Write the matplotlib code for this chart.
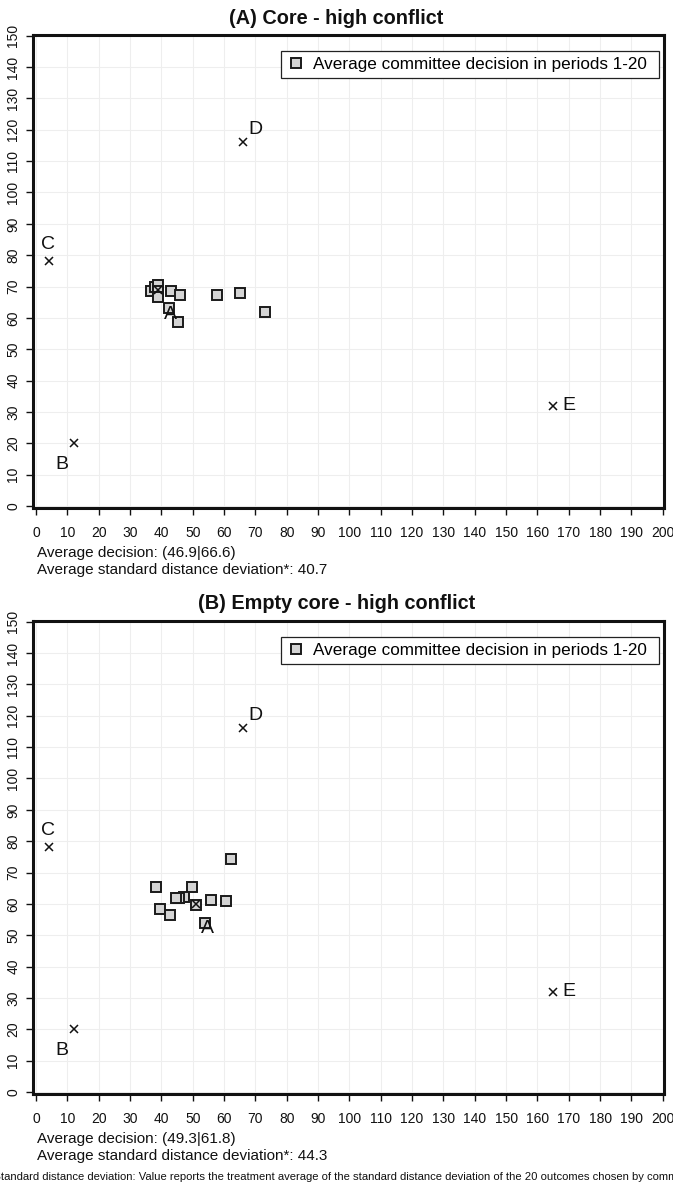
import matplotlib
matplotlib.use("Agg")
import matplotlib.pyplot as plt
import numpy as np

plt.rcParams['font.family'] = ['Liberation Sans', 'DejaVu Sans']

# committee averages, treatment (A) core
core_x = [36.6, 38.0, 39.0, 39.0, 38.9, 43.2, 46.0, 42.3, 45.3, 57.7, 65.1, 73.0]
core_y = [68.5, 69.8, 70.6, 68.5, 66.6, 68.7, 67.2, 63.2, 58.7, 67.4, 68.0, 61.9]

# committee averages, treatment (B) empty core
empty_x = [62.2, 38.4, 49.9, 47.3, 45.6, 44.8, 55.7, 60.7, 39.6, 42.7, 51.0, 53.9]
empty_y = [74.2, 65.3, 65.5, 62.2, 61.8, 62.0, 61.3, 61.0, 58.4, 56.5, 59.5, 54.0]

# ideal points of the five players
players = ['A', 'B', 'C', 'D', 'E']
core_ideal_x = [39, 12, 4, 66, 165]
core_ideal_y = [69, 20, 78, 116, 32]
empty_ideal_x = [51, 12, 4, 66, 165]
empty_ideal_y = [60, 20, 78, 116, 32]

titles = ['(A) Core - high conflict', '(B) Empty core - high conflict']
avg_decision = ['(46.9|66.6)', '(49.3|61.8)']
avg_sdd = ['40.7', '44.3']
legend_label = 'Average committee decision in periods 1-20'
footnote = ('*Standard distance deviation: Value reports the treatment average of the standard '
            'distance deviation of the 20 outcomes chosen by committees.')

# label offsets in pixels (dx, dy) relative to the cross
label_off = {'A': (12, -25), 'B': (-12, -21), 'C': (-1, 17), 'D': (13, 13), 'E': (16, 0)}

TICK_FONT = ['Liberation Sans Narrow', 'Liberation Sans', 'DejaVu Sans']

W, H = 673, 1186
fig = plt.figure(figsize=(W / 100, H / 100), dpi=100)


def fx(px):
    return px / W


def fy(py):
    return 1 - py / H


def draw_panel(ax, xs, ys, ix, iy):
    ax.set_xlim(-1, 200.4)
    ax.set_ylim(-0.6, 150.2)
    ax.set_xticks(np.arange(0, 201, 10))
    ax.set_yticks(np.arange(0, 151, 10))
    ax.grid(True, color='#eeeeee', linewidth=0.8)
    ax.set_axisbelow(True)
    for s in ax.spines.values():
        s.set_linewidth(2.2)
        s.set_color('#111111')
    ax.tick_params(axis='x', length=5, width=1, pad=8, colors='#111111')
    ax.tick_params(axis='y', length=5, width=1, pad=4, colors='#111111')
    for lab in ax.get_xticklabels():
        lab.set_family(TICK_FONT)
        lab.set_fontsize(10)
    for lab in ax.get_yticklabels():
        lab.set_family(TICK_FONT)
        lab.set_fontsize(10)
        lab.set_rotation(90)
        lab.set_va('center')

    ax.plot(xs, ys, linestyle='none', marker='s', markersize=7,
            markerfacecolor='#d4d4d4', markeredgecolor='#1a1a1a', markeredgewidth=1.4,
            label=legend_label, zorder=3)
    ax.plot(ix, iy, linestyle='none', marker='x', markersize=6,
            color='#111111', markeredgewidth=1.1, zorder=4)
    for name, x, y in zip(players, ix, iy):
        dx, dy = label_off[name]
        ax.annotate(name, (x, y), xytext=(dx, dy), textcoords='offset pixels',
                    ha='center', va='center', fontsize=14, color='#111111', zorder=5)

    ax.legend(loc='lower left', bbox_to_anchor=(0.393, 0.909, 0.599, 0.07), mode='expand',
              borderaxespad=0, fancybox=False, framealpha=1, edgecolor='#222222',
              fontsize=12.3, handletextpad=0.4, borderpad=0.35, handlelength=1.1)
    ax.get_legend().get_frame().set_linewidth(0.9)


# panel boxes in pixels: left, right, top, bottom
boxes = [(33, 664, 35, 508), (33, 664, 621, 1094)]
data = [(core_x, core_y, core_ideal_x, core_ideal_y),
        (empty_x, empty_y, empty_ideal_x, empty_ideal_y)]
title_y = [18, 604]
text_y = [553, 1139]

for i in range(2):
    l, r, t, b = boxes[i]
    ax = fig.add_axes([fx(l), fy(b), fx(r - l), (b - t) / H])
    draw_panel(ax, *data[i])
    fig.text(0.5, fy(title_y[i]), titles[i], ha='center', va='center',
             fontsize=14.3, fontweight='bold', color='#111111')
    fig.text(fx(37), fy(text_y[i]), 'Average decision: ' + avg_decision[i],
             ha='left', va='center', fontsize=11, color='#111111')
    fig.text(fx(37), fy(text_y[i] + 17), 'Average standard distance deviation*: ' + avg_sdd[i],
             ha='left', va='center', fontsize=11, color='#111111')

fig.text(fx(-11), fy(1177), footnote, ha='left', va='center', fontsize=8.1, color='#111111')

fig.savefig('out.png', dpi=100)
